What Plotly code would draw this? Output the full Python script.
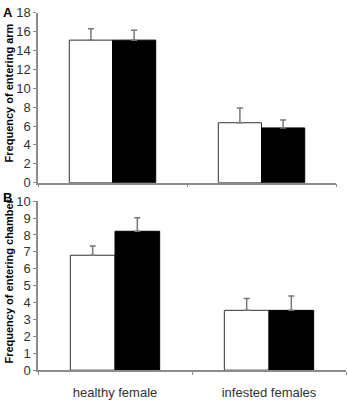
import plotly.graph_objects as go

categories = ["healthy female", "infested females"]
arm_white = [15.1, 6.35]
arm_white_err = [1.2, 1.55]
arm_black = [15.1, 5.8]
arm_black_err = [1.05, 0.85]
chamber_white = [6.8, 3.54]
chamber_white_err = [0.55, 0.7]
chamber_black = [8.22, 3.54]
chamber_black_err = [0.8, 0.85]

W, H = 348, 400
ERR = "#777777"
AX = "#8c8c8c"
FONT = "Liberation Sans, Arial, sans-serif"

def err(vals):
    return dict(type="data", array=vals, arrayminus=[0] * len(vals), symmetric=False,
                color=ERR, thickness=1.5, width=3)

fig = go.Figure()
fig.add_trace(go.Bar(x=categories, y=arm_white, error_y=err(arm_white_err),
                     marker=dict(color="white", line=dict(color="#333333", width=1)),
                     xaxis="x", yaxis="y", showlegend=False))
fig.add_trace(go.Bar(x=categories, y=arm_black, error_y=err(arm_black_err),
                     marker=dict(color="black", line=dict(color="black", width=1)),
                     xaxis="x", yaxis="y", showlegend=False))
fig.add_trace(go.Bar(x=categories, y=chamber_white, error_y=err(chamber_white_err),
                     marker=dict(color="white", line=dict(color="#333333", width=1)),
                     xaxis="x2", yaxis="y2", showlegend=False))
fig.add_trace(go.Bar(x=categories, y=chamber_black, error_y=err(chamber_black_err),
                     marker=dict(color="black", line=dict(color="black", width=1)),
                     xaxis="x2", yaxis="y2", showlegend=False))

def px_x(a, b):
    return [a / W, b / W]

def px_y(top, bottom):
    return [1 - bottom / H, 1 - top / H]

xcommon = dict(type="category", showline=True, linecolor=AX, linewidth=1.5,
               ticks="outside", ticklen=3, tickcolor=AX, tickson="boundaries",
               showgrid=False, zeroline=False, fixedrange=True)
ycommon = dict(showline=True, linecolor=AX, linewidth=1.5, ticks="outside", ticklen=3,
               tickcolor=AX, showgrid=False, zeroline=False,
               tickfont=dict(family=FONT, size=13, color="#333333"))

fig.update_layout(
    width=W, height=H, margin=dict(l=0, r=0, t=0, b=0),
    paper_bgcolor="white", plot_bgcolor="white",
    barmode="group", bargap=0.42, bargroupgap=0,
    font=dict(family=FONT),
    xaxis=dict(domain=px_x(38, 336), anchor="y", showticklabels=False, **xcommon),
    yaxis=dict(domain=px_y(6, 183), anchor="x", range=[0, 18], dtick=2, **ycommon),
    xaxis2=dict(domain=px_x(38, 346), anchor="y2", showticklabels=True,
                ticklabelstandoff=9,
                tickfont=dict(family=FONT, size=13, color="#333333"), **xcommon),
    yaxis2=dict(domain=px_y(202.3, 378.3), anchor="x2", range=[0, 10], dtick=1, **ycommon),
    annotations=[
        dict(text="<b>A</b>", x=1 / W, y=1 - 6 / H, xref="paper", yref="paper",
             xanchor="left", yanchor="middle", showarrow=False,
             font=dict(family=FONT, size=13, color="black")),
        dict(text="<b>B</b>", x=1 / W, y=1 - 198 / H, xref="paper", yref="paper",
             xanchor="left", yanchor="middle", showarrow=False,
             font=dict(family=FONT, size=13, color="black")),
        dict(text="<b>Frequency of entering arm</b>", textangle=-90,
             x=9 / W, y=1 - 90 / H, xref="paper", yref="paper",
             xanchor="center", yanchor="middle", showarrow=False,
             font=dict(family=FONT, size=11, color="black")),
        dict(text="<b>Frequency of entering chamber</b>", textangle=-90,
             x=9 / W, y=1 - 286 / H, xref="paper", yref="paper",
             xanchor="center", yanchor="middle", showarrow=False,
             font=dict(family=FONT, size=11, color="black")),
    ],
)

fig.write_html("out.html", config={"displayModeBar": False},
               post_script="document.body.style.margin='0';document.body.style.overflow='hidden';")
